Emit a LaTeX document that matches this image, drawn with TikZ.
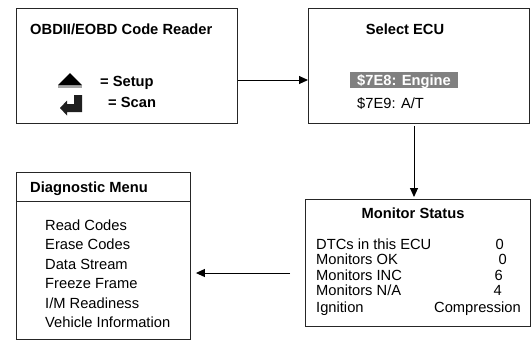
\documentclass[tikz,border=0pt]{standalone}
\usepackage{fontspec}
\setmainfont{Liberation Sans}
\usetikzlibrary{arrows.meta}
\begin{document}
\begin{tikzpicture}[x=1pt,y=-1pt,
  box/.style={draw=black!85, line width=0.9pt, inner sep=0pt, anchor=north west},
  txt/.style={inner sep=0pt, anchor=base west, font=\fontsize{14.7}{16}\selectfont},
  btxt/.style={inner sep=0pt, anchor=base west, font=\fontsize{14.7}{16}\selectfont\bfseries},
  val/.style={inner sep=0pt, anchor=base east, font=\fontsize{14.7}{16}\selectfont},
  arr/.style={draw=black, line width=1pt, -{Triangle[length=9pt,width=8pt]}}]
\useasboundingbox (0,0) rectangle (532,341);
% boxes
\node[box, minimum width=221pt, minimum height=115pt] (b1) at (16,8) {};
\node[box, minimum width=221pt, minimum height=115pt] (b2) at (308,8) {};
\node[box, minimum width=174pt, minimum height=167pt] (b3) at (16,172) {};
\node[box, minimum width=225pt, minimum height=127pt] (b4) at (305,199) {};
% box 1
\node[btxt] (t1) at (30,34) {OBDII/EOBD Code Reader};
\fill[black!35] (58,85) rectangle (82,87.5);
\fill[black] (58,85) -- (82,85) -- (70,73) -- cycle;
\fill[black!88] (74,95) -- (82,95) -- (82,112) -- (67,112) -- (67,115.5) -- (60,108) -- (67,100.5) -- (67,104) -- (74,104) -- cycle;
\node[btxt] (s1) at (100,86) {= Setup};
\node[btxt] (s2) at (108,107) {= Scan};
% box 2
\node[inner sep=0pt, anchor=base, font=\fontsize{14.7}{16}\selectfont\bfseries] (t2) at (405,34) {Select ECU};
\fill[black!50] (350,72) rectangle (458,88);
\node[btxt, text=white] (e1) at (357,85) {\$7E8: Engine};
\node[txt] (e2) at (357,108) {\$7E9: A/T};
% box 3
\node[btxt] (t3) at (30,192) {Diagnostic Menu};
\draw[line width=0.9pt, black!85] (b3.west |- 0,201) -- (b3.east |- 0,201);
\node[txt] (m1) at (45,230) {Read Codes};
\node[txt] (m2) at (45,249.5) {Erase Codes};
\node[txt] (m3) at (45,269) {Data Stream};
\node[txt] (m4) at (45,288.5) {Freeze Frame};
\node[txt] (m5) at (45,308) {I/M Readiness};
\node[txt] (m6) at (45,327.5) {Vehicle Information};
% box 4
\node[inner sep=0pt, anchor=base, font=\fontsize{14.7}{16}\selectfont\bfseries] (t4) at (413,218) {Monitor Status};
\node[txt] (r1) at (316,249) {DTCs in this ECU};
\node[txt] (r2) at (316,264.5) {Monitors OK};
\node[txt] (r3) at (316,280) {Monitors INC};
\node[txt] (r4) at (316,295.5) {Monitors N/A};
\node[txt] (r5) at (316,312) {Ignition};
\node[val] (v1) at (504,249) {0};
\node[val] (v2) at (507,264.5) {0};
\node[val] (v3) at (503,280) {6};
\node[val] (v4) at (502,295.5) {4};
\node[val] (v5) at (521,312) {Compression};
% arrows
\draw[arr] (b1.east |- 0,80) -- (b2.west |- 0,80);
\draw[arr, shorten >=2pt, shorten <=2pt] (b2.south -| 414,0) -- (b4.north -| 414,0);
\draw[arr, shorten >=5pt, shorten <=15pt] (b4.west |- 0,273) -- (b3.east |- 0,273);
\end{tikzpicture}
\end{document}
